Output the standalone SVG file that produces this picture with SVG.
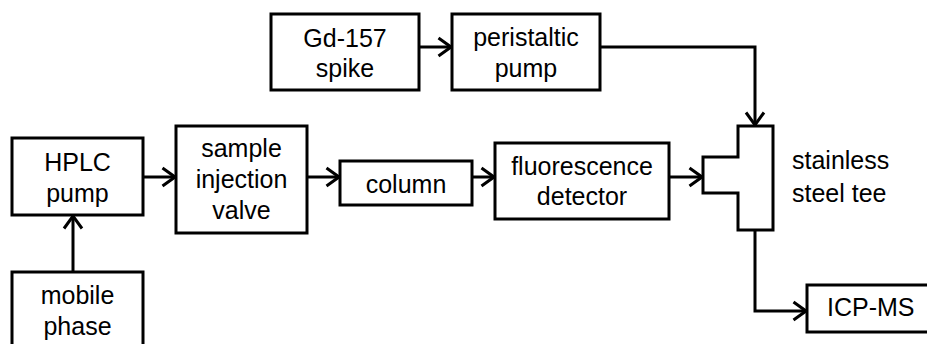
<svg xmlns="http://www.w3.org/2000/svg" width="927" height="344" viewBox="0 0 927 344">
<style>
.box{fill:#fff;stroke:#000;stroke-width:3}
.t{font-family:"Liberation Sans",Arial,sans-serif;font-size:25px;fill:#000;text-anchor:middle}
.c{fill:none;stroke:#000;stroke-width:3}
.lbl{font-family:"Liberation Sans",Arial,sans-serif;font-size:25px;fill:#000}
</style>
<defs>
<marker id="ah" viewBox="0 0 16 22" refX="14.5" refY="11" markerWidth="16" markerHeight="22" markerUnits="userSpaceOnUse" orient="auto">
<path d="M2,2 L14.5,11 L2,20" fill="none" stroke="#000" stroke-width="3"/>
</marker>
</defs>
<rect width="927" height="344" fill="#fff"/>
<g id="connectors">
<path class="c" d="M419,47 H451" marker-end="url(#ah)"/>
<path class="c" d="M600,47 H755 V125" marker-end="url(#ah)"/>
<path class="c" d="M143,177 H175" marker-end="url(#ah)"/>
<path class="c" d="M307,177 H339" marker-end="url(#ah)"/>
<path class="c" d="M472,177 H494" marker-end="url(#ah)"/>
<path class="c" d="M669,177 H702" marker-end="url(#ah)"/>
<path class="c" d="M73,272 V216" marker-end="url(#ah)"/>
<path class="c" d="M755,230 V311 H806" marker-end="url(#ah)"/>
</g>
<g id="gd157">
<rect class="box" x="271" y="14" width="148" height="76"/>
<text class="t" x="345" y="47">Gd-157</text>
<text class="t" x="345" y="77">spike</text>
</g>
<g id="peristaltic">
<rect class="box" x="452" y="14" width="148" height="76"/>
<text class="t" x="526" y="46">peristaltic</text>
<text class="t" x="526" y="77">pump</text>
</g>
<g id="hplc">
<rect class="box" x="12" y="138" width="131" height="77"/>
<text class="t" x="77.5" y="171">HPLC</text>
<text class="t" x="77.5" y="202">pump</text>
</g>
<g id="sample">
<rect class="box" x="176" y="126" width="131" height="107"/>
<text class="t" x="241.5" y="157">sample</text>
<text class="t" x="241.5" y="188">injection</text>
<text class="t" x="241.5" y="219">valve</text>
</g>
<g id="column">
<rect class="box" x="340" y="161" width="132" height="44"/>
<text class="t" x="406" y="193">column</text>
</g>
<g id="fluorescence">
<rect class="box" x="495" y="143" width="174" height="76"/>
<text class="t" x="582" y="175">fluorescence</text>
<text class="t" x="582" y="205">detector</text>
</g>
<g id="tee">
<path class="box" d="M738,126 H773 V230 H738 V193 H703 V157 H738 Z"/>
<text class="lbl" x="792" y="169">stainless</text>
<text class="lbl" x="792" y="202">steel tee</text>
</g>
<g id="mobile">
<rect class="box" x="12" y="272" width="131" height="80"/>
<text class="t" x="77.5" y="304">mobile</text>
<text class="t" x="77.5" y="335">phase</text>
</g>
<g id="icpms">
<rect class="box" x="807" y="285" width="130" height="47"/>
<text class="lbl" x="827" y="316">ICP-MS</text>
</g>
</svg>
